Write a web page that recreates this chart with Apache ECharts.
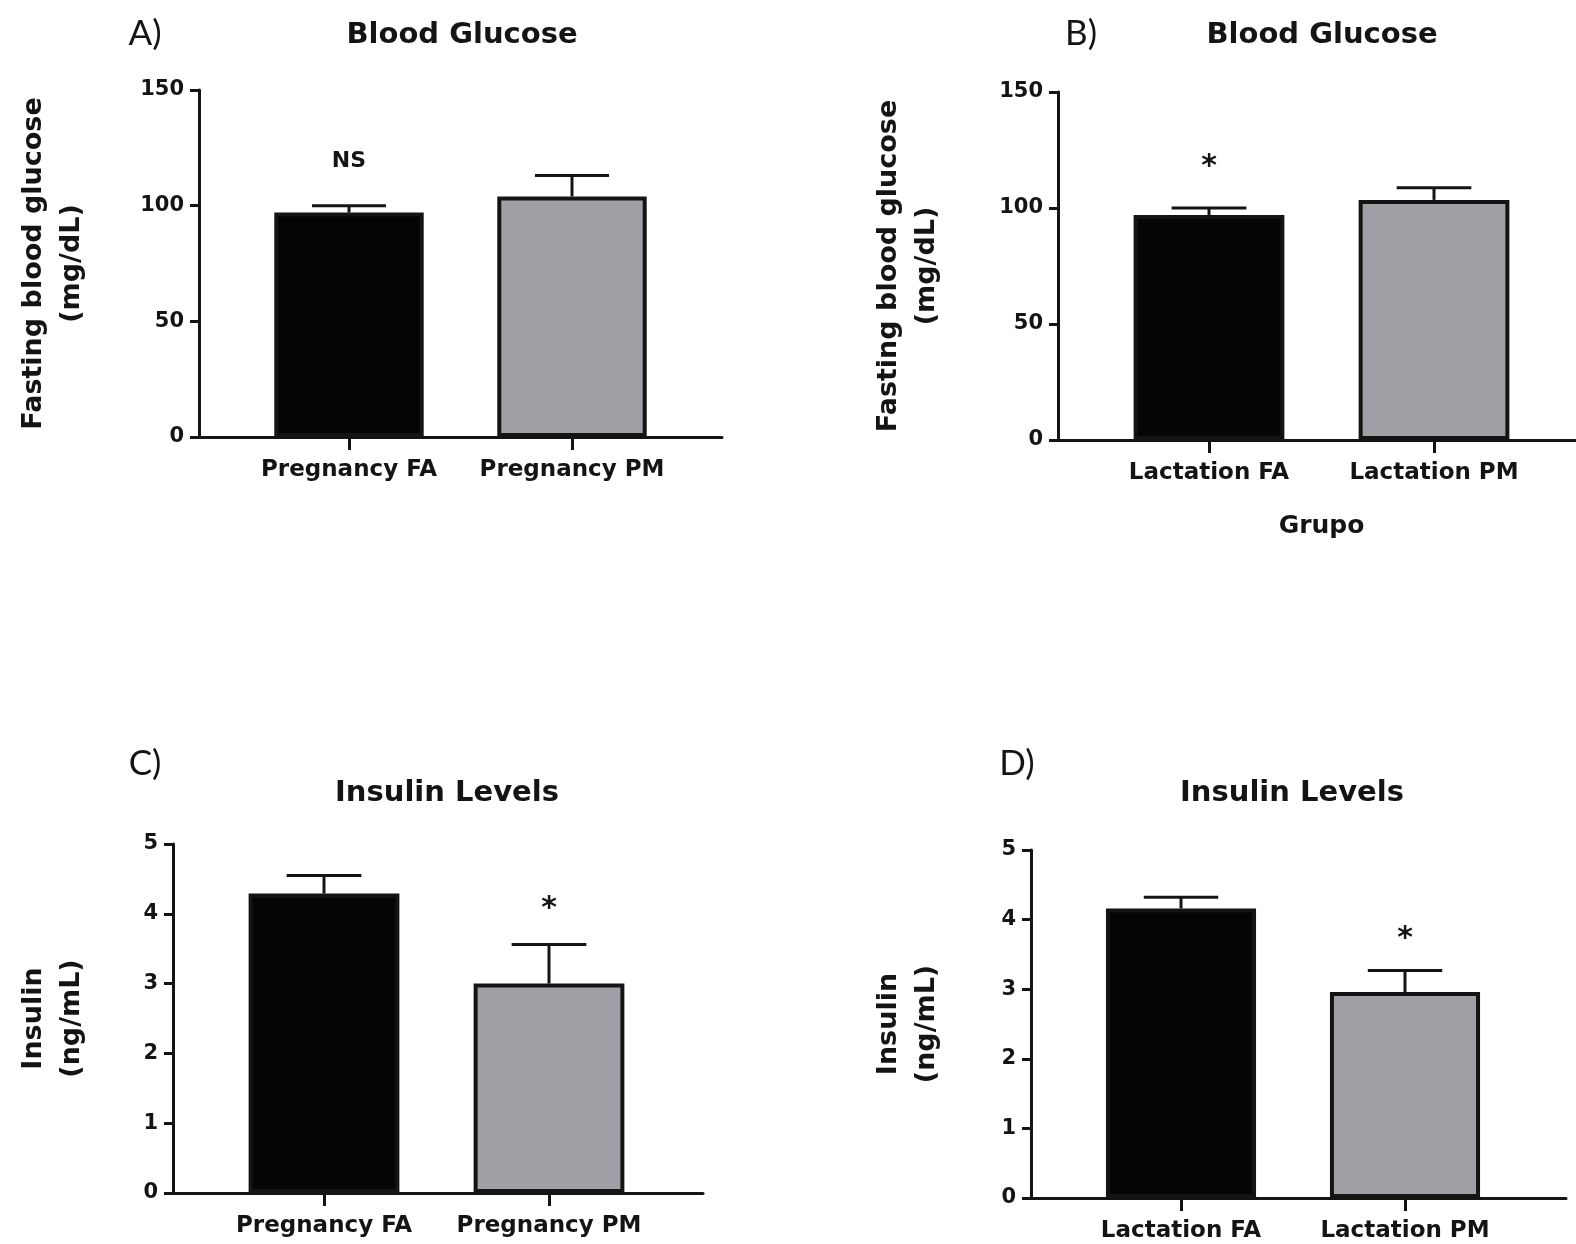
<!DOCTYPE html>
<html>
<head>
<meta charset="utf-8">
<script src="https://cdn.jsdelivr.net/npm/echarts@6/dist/echarts.min.js"></script>
<style>
  html, body { margin: 0; padding: 0; background: #ffffff; }
  #chart { width: 1576px; height: 1244px; }
</style>
</head>
<body>
<div id="chart"></div>
<script>
// ---------- data ----------
const panelLetters = ['A)', 'B)', 'C)', 'D)'];
const panelTitles = ['Blood Glucose', 'Blood Glucose', 'Insulin Levels', 'Insulin Levels'];
const yAxisNames = ['Fasting blood glucose\n(mg/dL)', 'Fasting blood glucose\n(mg/dL)', 'Insulin\n(ng/mL)', 'Insulin\n(ng/mL)'];
const xAxisNames = ['', 'Grupo', '', ''];

const catsA = ['Pregnancy FA', 'Pregnancy PM'];
const catsB = ['Lactation FA', 'Lactation PM'];
const catsC = ['Pregnancy FA', 'Pregnancy PM'];
const catsD = ['Lactation FA', 'Lactation PM'];

const meanA = [97, 104];
const semA = [3, 9];
const meanB = [97, 103.5];
const semB = [3, 5.2];
const meanC = [4.29, 3.0];
const semC = [0.26, 0.56];
const meanD = [4.16, 2.96];
const semD = [0.16, 0.31];

const glucoseTicks = [0, 50, 100, 150];
const insulinTicks = [0, 1, 2, 3, 4, 5];

// significance marks: [category index, y value, text]
const annotA = [[0, 119.2, 'NS']];
const annotB = [[0, 120.5, '*']];
const annotC = [[1, 4.16, '*']];
const annotD = [[1, 3.82, '*']];

const barColors = ['#050505', '#a19fa6'];

// ---------- layout (pixels) ----------
const layouts = [
  { axisX: 199, top: 90, height: 347, right: 722, c0: 349, c1: 572, letter: [145, 34], title: [462, 35], nameGap: 108 },
  { axisX: 1058, top: 92, height: 348, right: 1576, c0: 1209, c1: 1434, letter: [1081, 34], title: [1322, 35], nameGap: 112 },
  { axisX: 173, top: 844, height: 349, right: 703, c0: 324, c1: 549, letter: [145, 764], title: [447, 793], nameGap: 82 },
  { axisX: 1031, top: 850, height: 348, right: 1566, c0: 1181, c1: 1405, letter: [1017, 764], title: [1292, 793], nameGap: 85 }
];

const cats = [catsA, catsB, catsC, catsD];
const means = [meanA, meanB, meanC, meanD];
const sems = [semA, semB, semC, semD];
const ticks = [glucoseTicks, glucoseTicks, insulinTicks, insulinTicks];
const annots = [annotA, annotB, annotC, annotD];

const FONT = '"DejaVu Sans", "Liberation Sans", Arial, sans-serif';
const INK = '#141414';

const grid = [], xAxis = [], yAxis = [], series = [], graphic = [];

function renderErr(params, api) {
  const x = api.value(0), m = api.value(1), s = api.value(2);
  const base = api.coord([x, m]);
  const top = api.coord([x, m + s]);
  const half = api.size([1, 0])[0] * 0.166;
  return {
    type: 'group',
    children: [
      { type: 'line', shape: { x1: base[0], y1: base[1], x2: top[0], y2: top[1] }, style: { stroke: INK, lineWidth: 3 } },
      { type: 'line', shape: { x1: top[0] - half, y1: top[1], x2: top[0] + half, y2: top[1] }, style: { stroke: INK, lineWidth: 3 } }
    ]
  };
}

layouts.forEach((L, i) => {
  const t = ticks[i];
  const yMin = t[0], yMax = t[t.length - 1], yInt = t[1] - t[0];
  const band = L.c1 - L.c0;
  const innerLeft = L.c0 - band / 2;
  grid.push({ left: L.axisX, top: L.top, width: L.right - L.axisX, height: L.height, containLabel: false });
  grid.push({ left: innerLeft, top: L.top, width: band * 2, height: L.height, containLabel: false });
  const go = 2 * i, gi = 2 * i + 1;

  xAxis.push({
    type: 'value', gridIndex: go, min: 0, max: 1,
    axisLine: { show: true, lineStyle: { color: INK, width: 3 } },
    axisTick: { show: false }, axisLabel: { show: false }, splitLine: { show: false }
  });
  yAxis.push({
    type: 'value', gridIndex: go, min: yMin, max: yMax, interval: yInt,
    axisLine: { show: true, lineStyle: { color: INK, width: 3 } },
    axisTick: { show: true, length: 9, lineStyle: { color: INK, width: 3 } },
    axisLabel: { show: true, color: INK, fontFamily: FONT, fontWeight: 'bold', fontSize: 21, margin: 15 },
    splitLine: { show: false },
    name: yAxisNames[i], nameLocation: 'middle', nameRotate: 90, nameGap: L.nameGap,
    nameTextStyle: { color: INK, fontFamily: FONT, fontWeight: 'bold', fontSize: 27, lineHeight: 38, align: 'center' }
  });
  xAxis.push({
    type: 'category', gridIndex: gi, data: cats[i],
    axisLine: { show: false },
    axisTick: { show: true, alignWithLabel: true, length: 13, lineStyle: { color: INK, width: 3 } },
    axisLabel: { show: true, interval: 0, hideOverlap: false, color: INK, fontFamily: FONT, fontWeight: 'bold', fontSize: 23, margin: 22 },
    splitLine: { show: false },
    name: xAxisNames[i], nameLocation: 'middle', nameGap: 74,
    nameTextStyle: { color: INK, fontFamily: FONT, fontWeight: 'bold', fontSize: 25 }
  });
  yAxis.push({ type: 'value', gridIndex: gi, min: yMin, max: yMax, interval: yInt, show: false });

  series.push({
    type: 'bar', xAxisIndex: gi, yAxisIndex: gi, barWidth: '67%', z: 3,
    data: means[i].map((v, k) => ({ value: v, itemStyle: { color: barColors[k], borderColor: INK, borderWidth: 4 } })),
    emphasis: { disabled: true }, silent: true
  });
  series.push({
    type: 'custom', xAxisIndex: gi, yAxisIndex: gi, z: 4, silent: true,
    renderItem: renderErr, encode: { x: 0, y: 1 },
    data: means[i].map((v, k) => [k, v, sems[i][k]])
  });
  series.push({
    type: 'scatter', xAxisIndex: gi, yAxisIndex: gi, z: 5, silent: true, symbolSize: 0,
    itemStyle: { opacity: 1, color: INK },
    emphasis: { disabled: true },
    data: annots[i].map(a => ({ value: [a[0], a[1]], name: a[2] })),
    label: {
      show: true, position: 'inside', formatter: p => p.name, color: INK, opacity: 1,
      fontFamily: FONT, fontWeight: 'bold', fontSize: 22
    }
  });

  graphic.push({
    type: 'text', x: L.letter[0], y: L.letter[1],
    style: { text: panelLetters[i], font: 'normal 35px Lato, "Open Sans", sans-serif', fill: INK, textAlign: 'center', textVerticalAlign: 'middle' }
  });
  graphic.push({
    type: 'text', x: L.title[0], y: L.title[1],
    style: { text: panelTitles[i], font: 'bold 29px ' + FONT, fill: INK, textAlign: 'center', textVerticalAlign: 'middle' }
  });
});

series.forEach(s => {
  if (s.type === 'scatter') {
    s.data.forEach(d => {
      if (d.name === '*') d.label = { fontSize: 30, offset: [0, 7] };
    });
  }
});

const chart = echarts.init(document.getElementById('chart'), null, { renderer: 'canvas' });
chart.setOption({
  backgroundColor: '#ffffff',
  animation: false,
  grid, xAxis, yAxis, series, graphic
});
</script>
</body>
</html>
